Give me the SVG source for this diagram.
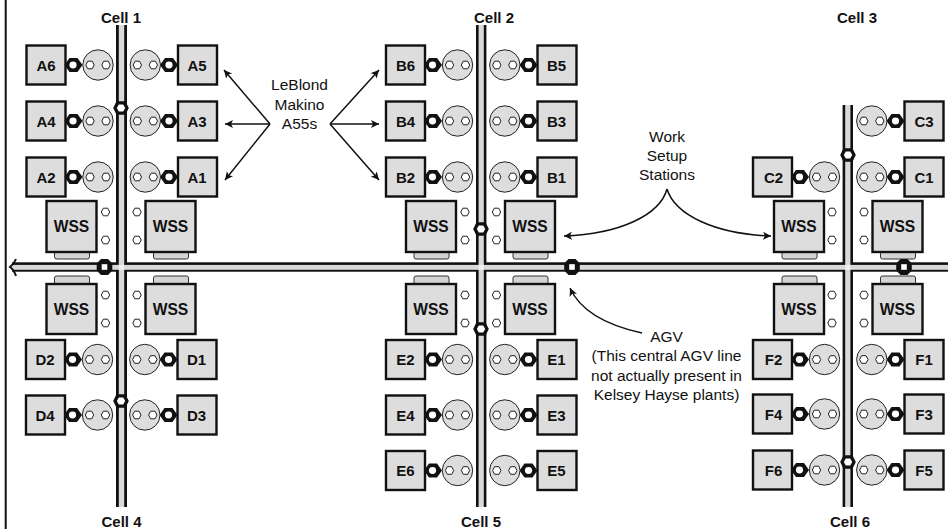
<svg xmlns="http://www.w3.org/2000/svg" width="948" height="529" viewBox="0 0 948 529">
<style>
text{font-family:"Liberation Sans",Arial,sans-serif;fill:#111;text-anchor:middle}
.b{font-weight:bold;font-size:15px}
.w{font-weight:bold;font-size:15.6px}
.t{font-size:15.5px}
.box{fill:#ddd;stroke:#111;stroke-width:2.4}
.tab{fill:#d4d4d4;stroke:#333;stroke-width:1}
.tool{fill:#ddd;stroke:#222;stroke-width:1}
.sh{fill:#fff;stroke:#222;stroke-width:1}
.k{fill:#111}
.white{fill:#fff}
.g{fill:#d9d9d9}
.x{fill:#efefef}
.c{fill:none;stroke:#111;stroke-width:1.5}
</style>
<defs>
<marker id="ah" markerUnits="userSpaceOnUse" markerWidth="10" markerHeight="10" refX="8" refY="4" orient="auto"><path d="M0,0L8,4L0,8L2,4Z" fill="#111"/></marker>
<polygon id="sh" class="sh" points="-4.2,0 -2.2,-3.8 2.2,-3.8 4.2,0 2.2,3.8 -2.2,3.8"/>
<g id="ml">
<rect class="box" x="-95" y="-19.5" width="39" height="39"/>
<polygon class="k" points="-57,0 -52,-7 -44,-7 -39,0 -44,7 -52,7"/>
<ellipse class="white" cx="-48.5" cy="0" rx="3.6" ry="3.4"/>
<circle class="tool" cx="-23.5" cy="0" r="15.2"/>
<use href="#sh" x="-31.5" y="0"/><use href="#sh" x="-15.5" y="0"/>
</g>
<g id="mr">
<rect class="box" x="56.5" y="-19.5" width="39" height="39"/>
<polygon class="k" points="38.5,0 43.5,-7 51.5,-7 56.5,0 51.5,7 43.5,7"/>
<ellipse class="white" cx="47.5" cy="0" rx="3.6" ry="3.4"/>
<circle class="tool" cx="23.8" cy="0" r="15.2"/>
<use href="#sh" x="15.8" y="0"/><use href="#sh" x="31.8" y="0"/>
</g>
<g id="wu">
<rect class="tab" x="8" y="50" width="35" height="8" rx="2"/>
<rect class="box" x="0" y="0" width="50" height="51"/>
</g>
<g id="wl">
<rect class="tab" x="8" y="-8" width="35" height="9" rx="2"/>
<rect class="box" x="0" y="0" width="50" height="50"/>
</g>
<g id="ring"><polygon class="k" points="-7.8,0 -4.5,-6.8 4.5,-6.8 7.8,0 4.5,6.8 -4.5,6.8"/><polygon class="white" points="-4.2,0 -2.2,-3.5 2.2,-3.5 4.2,0 2.2,3.5 -2.2,3.5"/></g>
<g id="ringh"><polygon class="k" points="-7.8,-3.5 -3.5,-8 3.5,-8 7.8,-3.5 7.8,3.5 3.5,8 -3.5,8 -7.8,3.5"/><rect class="white" x="-2.8" y="-2.8" width="5.6" height="5.6"/></g>
</defs>
<g id="connectors">
<rect class="k" x="4.7" y="0" width="2" height="529"/>
<rect class="k" x="12" y="262.3" width="936" height="9.4"/>
<rect class="k" x="116" y="25" width="11" height="482"/>
<rect class="k" x="476" y="25" width="10.4" height="482"/>
<rect class="k" x="842.6" y="105" width="10.4" height="402"/>
<rect class="g" x="118.8" y="25" width="5.4" height="482"/>
<rect class="g" x="478.6" y="25" width="5.2" height="482"/>
<rect class="g" x="845.2" y="105" width="5.2" height="402"/>
<rect class="g" x="12" y="264.9" width="936" height="4.9"/>
<rect class="x" x="118.8" y="264.9" width="5.4" height="4.9"/>
<rect class="x" x="478.6" y="264.9" width="5.2" height="4.9"/>
<rect class="x" x="845.2" y="264.9" width="5.2" height="4.9"/>
<path d="M16,259Q14,264 10,267Q14,270 16,276" fill="none" stroke="#111" stroke-width="2"/>
<path class="c" marker-end="url(#ah)" d="M270,124L224,70"/>
<path class="c" marker-end="url(#ah)" d="M270,124L225,124"/>
<path class="c" marker-end="url(#ah)" d="M270,124L225,180"/>
<path class="c" marker-end="url(#ah)" d="M330,124L379,70"/>
<path class="c" marker-end="url(#ah)" d="M330,124L379,124"/>
<path class="c" marker-end="url(#ah)" d="M330,124L379,180"/>
<path class="c" marker-end="url(#ah)" d="M667,189C660,215 620,234 564,236"/>
<path class="c" marker-end="url(#ah)" d="M667,189C675,215 715,234 771,236"/>
<path class="c" marker-end="url(#ah)" d="M642,333C605,325 580,310 570,288"/>
</g>
<g id="A6"><use href="#ml" x="121.5" y="65"/><text class="b" x="46" y="70.5">A6</text></g>
<g id="A5"><use href="#mr" x="121.5" y="65"/><text class="b" x="197" y="70.5">A5</text></g>
<g id="A4"><use href="#ml" x="121.5" y="121"/><text class="b" x="46" y="126.5">A4</text></g>
<g id="A3"><use href="#mr" x="121.5" y="121"/><text class="b" x="197" y="126.5">A3</text></g>
<g id="A2"><use href="#ml" x="121.5" y="177"/><text class="b" x="46" y="182.5">A2</text></g>
<g id="A1"><use href="#mr" x="121.5" y="177"/><text class="b" x="197" y="182.5">A1</text></g>
<g id="B6"><use href="#ml" x="481" y="65"/><text class="b" x="405.5" y="70.5">B6</text></g>
<g id="B5"><use href="#mr" x="481" y="65"/><text class="b" x="556.5" y="70.5">B5</text></g>
<g id="B4"><use href="#ml" x="481" y="121"/><text class="b" x="405.5" y="126.5">B4</text></g>
<g id="B3"><use href="#mr" x="481" y="121"/><text class="b" x="556.5" y="126.5">B3</text></g>
<g id="B2"><use href="#ml" x="481" y="177"/><text class="b" x="405.5" y="182.5">B2</text></g>
<g id="B1"><use href="#mr" x="481" y="177"/><text class="b" x="556.5" y="182.5">B1</text></g>
<g id="C3"><use href="#mr" x="848" y="121"/><text class="b" x="924" y="126.5">C3</text></g>
<g id="C2"><use href="#ml" x="848" y="177"/><text class="b" x="773.5" y="182.5">C2</text></g>
<g id="C1"><use href="#mr" x="848" y="177"/><text class="b" x="924" y="182.5">C1</text></g>
<g id="D2"><use href="#ml" x="121" y="359.5"/><text class="b" x="45" y="365">D2</text></g>
<g id="D1"><use href="#mr" x="121" y="359.5"/><text class="b" x="196.5" y="365">D1</text></g>
<g id="D4"><use href="#ml" x="121" y="415"/><text class="b" x="45" y="420.5">D4</text></g>
<g id="D3"><use href="#mr" x="121" y="415"/><text class="b" x="196.5" y="420.5">D3</text></g>
<g id="E2"><use href="#ml" x="481" y="359.5"/><text class="b" x="405.5" y="365">E2</text></g>
<g id="E1"><use href="#mr" x="481" y="359.5"/><text class="b" x="556.5" y="365">E1</text></g>
<g id="E4"><use href="#ml" x="481" y="415"/><text class="b" x="405.5" y="420.5">E4</text></g>
<g id="E3"><use href="#mr" x="481" y="415"/><text class="b" x="556.5" y="420.5">E3</text></g>
<g id="E6"><use href="#ml" x="481" y="470.5"/><text class="b" x="405.5" y="476">E6</text></g>
<g id="E5"><use href="#mr" x="481" y="470.5"/><text class="b" x="556.5" y="476">E5</text></g>
<g id="F2"><use href="#ml" x="848" y="359.5"/><text class="b" x="773.5" y="365">F2</text></g>
<g id="F1"><use href="#mr" x="848" y="359.5"/><text class="b" x="924" y="365">F1</text></g>
<g id="F4"><use href="#ml" x="848" y="414"/><text class="b" x="773.5" y="419.5">F4</text></g>
<g id="F3"><use href="#mr" x="848" y="414"/><text class="b" x="924" y="419.5">F3</text></g>
<g id="F6"><use href="#ml" x="848" y="470"/><text class="b" x="773.5" y="475.5">F6</text></g>
<g id="F5"><use href="#mr" x="848" y="470"/><text class="b" x="924" y="475.5">F5</text></g>
<g id="WSS1L"><use href="#wu" x="46.5" y="201"/><use href="#sh" x="105.5" y="212"/><use href="#sh" x="105.5" y="240"/><text class="w" x="71.5" y="232">WSS</text></g>
<g id="WSS1R"><use href="#wu" x="145.5" y="201"/><use href="#sh" x="137" y="212"/><use href="#sh" x="137" y="240"/><text class="w" x="170.5" y="232">WSS</text></g>
<g id="WSS2L"><use href="#wu" x="406" y="201"/><use href="#sh" x="465" y="212"/><use href="#sh" x="465" y="240"/><text class="w" x="431" y="232">WSS</text></g>
<g id="WSS2R"><use href="#wu" x="505" y="201"/><use href="#sh" x="496.5" y="212"/><use href="#sh" x="496.5" y="240"/><text class="w" x="530" y="232">WSS</text></g>
<g id="WSS3L"><use href="#wu" x="774" y="201"/><use href="#sh" x="832" y="212"/><use href="#sh" x="832" y="240"/><text class="w" x="799" y="232">WSS</text></g>
<g id="WSS3R"><use href="#wu" x="872.5" y="201"/><use href="#sh" x="864" y="212"/><use href="#sh" x="864" y="240"/><text class="w" x="897.5" y="232">WSS</text></g>
<g id="WSS4L"><use href="#wl" x="46.5" y="284"/><use href="#sh" x="105.5" y="295"/><use href="#sh" x="105.5" y="323"/><text class="w" x="71.5" y="314.5">WSS</text></g>
<g id="WSS4R"><use href="#wl" x="145.5" y="284"/><use href="#sh" x="137" y="295"/><use href="#sh" x="137" y="323"/><text class="w" x="170.5" y="314.5">WSS</text></g>
<g id="WSS5L"><use href="#wl" x="406" y="284"/><use href="#sh" x="465" y="295"/><use href="#sh" x="465" y="323"/><text class="w" x="431" y="314.5">WSS</text></g>
<g id="WSS5R"><use href="#wl" x="505" y="284"/><use href="#sh" x="496.5" y="295"/><use href="#sh" x="496.5" y="323"/><text class="w" x="530" y="314.5">WSS</text></g>
<g id="WSS6L"><use href="#wl" x="774" y="284"/><use href="#sh" x="832" y="295"/><use href="#sh" x="832" y="323"/><text class="w" x="799" y="314.5">WSS</text></g>
<g id="WSS6R"><use href="#wl" x="872.5" y="284"/><use href="#sh" x="864" y="295"/><use href="#sh" x="864" y="323"/><text class="w" x="897.5" y="314.5">WSS</text></g>
<g id="agv-vehicles">
<use href="#ring" x="121" y="108"/><use href="#ring" x="481" y="229"/><use href="#ring" x="848" y="155"/>
<use href="#ring" x="481" y="329"/><use href="#ring" x="121" y="401"/><use href="#ring" x="848" y="462"/>
<use href="#ringh" x="104.5" y="267"/><use href="#ringh" x="572" y="267"/><use href="#ringh" x="904" y="267"/>
</g>
<g id="labels">
<text class="b" x="121" y="22.5">Cell 1</text>
<text class="b" x="494" y="22.5">Cell 2</text>
<text class="b" x="857" y="22.5">Cell 3</text>
<text class="b" x="121.5" y="526.5">Cell 4</text>
<text class="b" x="481" y="526.5">Cell 5</text>
<text class="b" x="850" y="526.5">Cell 6</text>
<text class="t" x="299.5" y="90">LeBlond</text>
<text class="t" x="299.5" y="109.5">Makino</text>
<text class="t" x="299.5" y="129">A55s</text>
<text class="t" x="667" y="142">Work</text>
<text class="t" x="667" y="161">Setup</text>
<text class="t" x="667" y="180">Stations</text>
<text class="t" x="666.5" y="342">AGV</text>
<text class="t" x="666.5" y="361">(This central AGV line</text>
<text class="t" x="666.5" y="380.5">not actually present in</text>
<text class="t" x="666.5" y="400">Kelsey Hayse plants)</text>
</g>
</svg>
